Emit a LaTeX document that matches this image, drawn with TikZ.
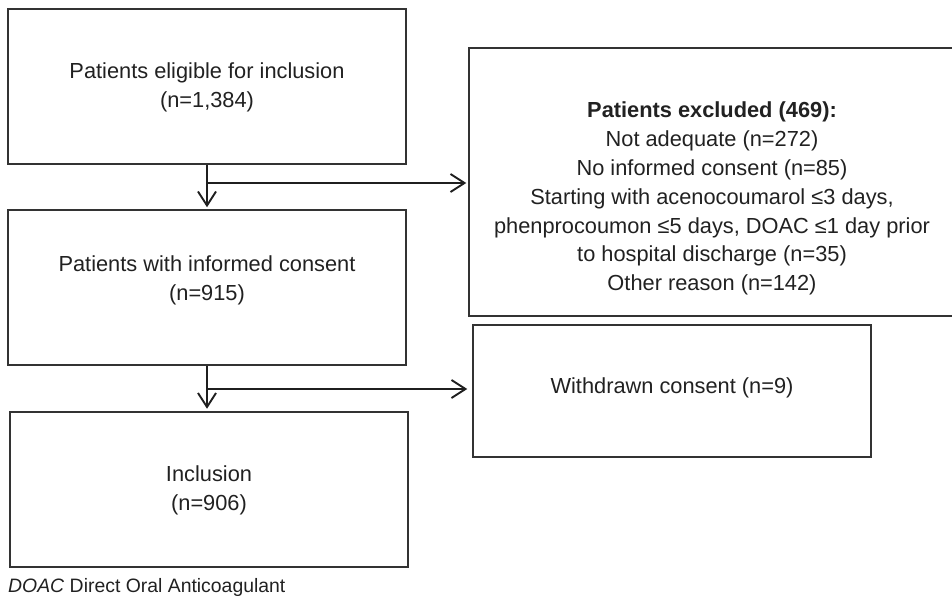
\documentclass[tikz,border=0pt]{standalone}
\usepackage{fontspec}
\setmainfont{Liberation Sans}
\usetikzlibrary{arrows.meta}
\definecolor{boxc}{gray}{0.2}
\definecolor{txtc}{gray}{0.13}
\definecolor{linec}{gray}{0.12}
\begin{document}
\begin{tikzpicture}[x=1pt,y=-1pt,
  box/.style={draw=boxc, line width=1.5pt, inner sep=0pt, minimum width=398pt, minimum height=155pt},
  txt/.style={text=txtc, align=center, inner sep=0pt, font=\fontsize{21.8}{28.9}\selectfont},
  lin/.style={draw=linec, line width=2pt},
  conn/.style={lin, -{Straight Barb[length=14pt,width=18pt,line width=1.9pt]}}
]
\useasboundingbox (0,0) rectangle (952,596);
\clip (0,0) rectangle (952,596);

% boxes
\node[box] (b1) at (207,86.5) {};
\node[box] (b3) at (207,287.5) {};
\node[box] (b5) at (209,489.5) {};
\node[box, minimum width=486pt, minimum height=268pt] (b2) at (712,182) {};
\node[box, minimum height=132pt] (b4) at (672,391) {};

% texts
\node[txt] (t1) at (207,87) {Patients eligible for inclusion\\(n=1,384)};
\node[txt] (t3) at (207,280) {Patients with informed consent\\(n=915)};
\node[txt] (t5) at (209,490.5) {Inclusion\\(n=906)};
\node[txt] (t2) at (712,198.5) {\textbf{Patients excluded (469):}\\Not adequate (n=272)\\No informed consent (n=85)\\Starting with acenocoumarol ≤3 days,\\phenprocoumon ≤5 days, DOAC ≤1 day prior\\to hospital discharge (n=35)\\Other reason (n=142)};
\node[txt] (t4) at (672,388) {Withdrawn consent (n=9)};

% caption
\node[text=txtc, inner sep=0pt, anchor=base west, font=\fontsize{19.4}{23}\selectfont] (cap) at (8,592) {\textit{DOAC} Direct Oral Anticoagulant};

% connectors
\coordinate (j1) at (207,183);
\coordinate (j2) at (207,389);
\draw[conn, shorten >=2pt] (b1.south) -- (b3.north);
\draw[conn, shorten >=2pt] (j1) -- (j1 -| b2.west);
\draw[conn, shorten >=2.5pt] (b3.south) -- (b3.south |- b5.north);
\draw[conn, shorten >=5pt] (j2) -- (j2 -| b4.west);
\end{tikzpicture}
\end{document}
